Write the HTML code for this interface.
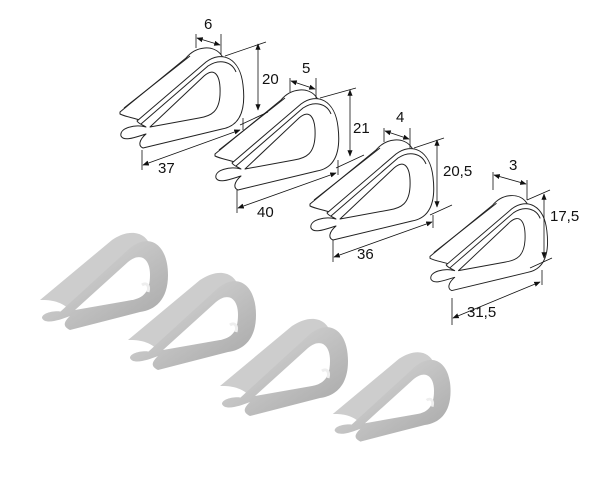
<!DOCTYPE html>
<html><head><meta charset="utf-8"><style>
html,body{margin:0;padding:0;background:#fff}
svg{display:block}
text{font-family:"Liberation Sans",sans-serif;font-size:15px;fill:#111}
</style></head><body>
<svg width="600" height="500" viewBox="0 0 600 500" xmlns="http://www.w3.org/2000/svg">
<defs>
<marker id="a" viewBox="0 0 10 10" refX="9" refY="5" markerWidth="8" markerHeight="8" orient="auto-start-reverse"><path d="M0,1 L10,5 L0,9 Z" fill="#111"/></marker>
<g id="t" fill="#fff" stroke="#222" stroke-width="1" stroke-linejoin="round">
  <path d="M120,112 L186,58 C196,46 214,44 222,56 L228,70 L150,125 C140,118 128,118 120,114 Z"/>
  <path d="M124,108 L190,56" fill="none"/>
  <path d="M137,121 L206,62 C222,50 240,58 243,85 C246,110 240,126 222,129 L143,148 C138,146 139,140 146,134 C136,137 124,142 121,136 C119,128 135,124 146,127 C143,125 139,124 137,121 Z"/>
  <path d="M141,124 L208,66 C220,58 232,62 236,72" fill="none"/>
  <path d="M150,127 L204,76 C214,67 221,74 220,95 C219,111 212,116 199,118 Z"/>
</g>
<linearGradient id="g" x1="0" y1="0" x2="1" y2="1">
  <stop offset="0" stop-color="#dcdcdc"/><stop offset="0.5" stop-color="#c2c2c2"/><stop offset="1" stop-color="#a6a6a6"/>
</linearGradient>
<g id="s">
  <path d="M40,300 L112,240 C130,228 145,232 150,245 L150,250 L70,310 C60,300 48,300 40,300 Z" fill="#cdcdcd"/>
  <path d="M60,312 L130,248 C150,232 168,245 168,275 C168,300 155,310 140,312 L70,330 C62,326 64,322 70,316 C60,320 45,325 42,318 C42,312 58,310 62,312 Z" fill="url(#g)"/>
  <path d="M75,310 L128,262 C140,252 150,258 150,275 C150,292 143,298 132,300 Z" fill="#fff"/>
  <path d="M142,285 C146,282 150,285 148,292" stroke="#eee" stroke-width="3" fill="none"/>
</g>
</defs>

<use href="#t"/>
<use href="#t" transform="translate(95,42)"/>
<use href="#t" transform="translate(190,92)"/>
<use href="#t" transform="translate(316,150) scale(0.95)"/>

<g stroke="#111" stroke-width="0.8" fill="none">
  <line x1="196" y1="34" x2="196" y2="48"/><line x1="221" y1="34" x2="221" y2="55"/>
  <line x1="197" y1="38" x2="220" y2="45" marker-start="url(#a)" marker-end="url(#a)"/>
  <line x1="225" y1="56" x2="266" y2="42"/><line x1="240" y1="125" x2="268" y2="112"/>
  <line x1="258" y1="44" x2="258" y2="110" marker-start="url(#a)" marker-end="url(#a)"/>
  <line x1="243" y1="118" x2="243" y2="130"/><line x1="142" y1="150" x2="142" y2="170"/>
  <line x1="143" y1="165" x2="240" y2="130" marker-start="url(#a)" marker-end="url(#a)"/>
  <line x1="290" y1="78" x2="290" y2="92"/><line x1="316" y1="78" x2="316" y2="98"/>
  <line x1="291" y1="81" x2="315" y2="89" marker-start="url(#a)" marker-end="url(#a)"/>
  <line x1="320" y1="98" x2="356" y2="88"/><line x1="336" y1="168" x2="364" y2="155"/>
  <line x1="350" y1="90" x2="350" y2="156" marker-start="url(#a)" marker-end="url(#a)"/>
  <line x1="338" y1="160" x2="338" y2="175"/><line x1="237" y1="190" x2="237" y2="213"/>
  <line x1="238" y1="208" x2="336" y2="173" marker-start="url(#a)" marker-end="url(#a)"/>
  <line x1="384" y1="128" x2="384" y2="142"/><line x1="410" y1="128" x2="410" y2="148"/>
  <line x1="385" y1="131" x2="409" y2="139" marker-start="url(#a)" marker-end="url(#a)"/>
  <line x1="414" y1="148" x2="444" y2="138"/><line x1="430" y1="215" x2="452" y2="205"/>
  <line x1="437" y1="140" x2="437" y2="207" marker-start="url(#a)" marker-end="url(#a)"/>
  <line x1="433" y1="215" x2="433" y2="228"/><line x1="333" y1="240" x2="333" y2="262"/>
  <line x1="334" y1="257" x2="432" y2="222" marker-start="url(#a)" marker-end="url(#a)"/>
  <line x1="493" y1="172" x2="493" y2="190"/><line x1="527" y1="180" x2="527" y2="200"/>
  <line x1="494" y1="175" x2="526" y2="184" marker-start="url(#a)" marker-end="url(#a)"/>
  <line x1="527" y1="200" x2="550" y2="190"/><line x1="530" y1="268" x2="552" y2="258"/>
  <line x1="544" y1="194" x2="544" y2="258" marker-start="url(#a)" marker-end="url(#a)"/>
  <line x1="542" y1="270" x2="542" y2="285"/><line x1="452" y1="298" x2="452" y2="325"/>
  <line x1="453" y1="318" x2="540" y2="282" marker-start="url(#a)" marker-end="url(#a)"/>
</g>
<text x="204" y="29">6</text>
<text x="262" y="84">20</text>
<text x="158" y="173">37</text>
<text x="302" y="73">5</text>
<text x="353" y="133">21</text>
<text x="257" y="217">40</text>
<text x="396" y="122">4</text>
<text x="443" y="176">20,5</text>
<text x="357" y="259">36</text>
<text x="509" y="170">3</text>
<text x="550" y="221">17,5</text>
<text x="467" y="317">31,5</text>

<use href="#s"/>
<use href="#s" transform="translate(88,40)"/>
<use href="#s" transform="translate(180,86)"/>
<use href="#s" transform="translate(296,138) scale(0.92)"/>
</svg>
</body></html>
